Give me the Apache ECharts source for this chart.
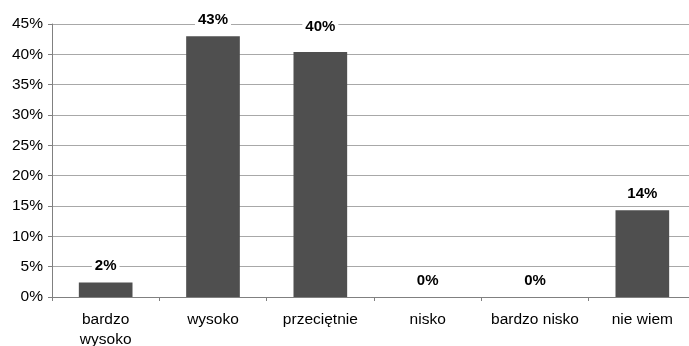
<!DOCTYPE html>
<html>
<head>
<meta charset="utf-8">
<script src="https://cdn.jsdelivr.net/npm/echarts@6/dist/echarts.min.js"></script>
<style>
  html, body { margin: 0; padding: 0; background: #ffffff; }
  #chart { width: 689px; height: 346px; }
</style>
</head>
<body>
<div id="chart"></div>
<script>
// Answer categories (Polish survey scale)
const categories = ['bardzo\nwysoko', 'wysoko', 'przeciętnie', 'nisko', 'bardzo nisko', 'nie wiem'];
// Share of responses, in percent
const shares = [2.4, 43, 40.4, 0, 0, 14.3];
// Y axis range and step, in percent
const yMin = 0;
const yMax = 45;
const yStep = 5;

const FONT = '"Liberation Sans", Arial, sans-serif';

// The "przeciętnie" label sits a little higher so it clears the 40% gridline
const raisedLabels = { 'przeciętnie': 9 };

const chart = echarts.init(document.getElementById('chart'), null, { renderer: 'canvas' });

chart.setOption({
  animation: false,
  backgroundColor: '#ffffff',
  grid: { left: 52, right: -7, top: 24, bottom: 49, containLabel: false, outerBoundsMode: 'none' },
  xAxis: {
    type: 'category',
    data: categories,
    boundaryGap: true,
    axisLine: { show: true, lineStyle: { color: '#808080', width: 1 } },
    axisTick: { show: true, length: 4, alignWithLabel: false, lineStyle: { color: '#808080' } },
    axisLabel: {
      color: '#000000',
      fontFamily: FONT,
      fontSize: 15.5,
      lineHeight: 20,
      margin: 13,
      interval: 0
    },
    splitLine: { show: false }
  },
  yAxis: {
    type: 'value',
    min: yMin,
    max: yMax,
    interval: yStep,
    axisLine: { show: true, lineStyle: { color: '#808080', width: 1 } },
    axisTick: { show: true, length: 4, lineStyle: { color: '#808080' } },
    axisLabel: {
      color: '#000000',
      fontFamily: FONT,
      fontSize: 15.5,
      margin: 9,
      formatter: v => v + '%'
    },
    splitLine: { show: true, lineStyle: { color: '#a8a8a8', width: 1 } }
  },
  series: [{
    type: 'bar',
    barWidth: '50%',
    itemStyle: { color: '#4f4f4f' },
    data: shares.map((v, i) => {
      const lift = raisedLabels[categories[i]] || 0;
      return lift ? { value: v, label: { offset: [0, -lift] } } : v;
    }),
    label: {
      show: true,
      position: 'top',
      distance: 8,
      color: '#000000',
      fontFamily: FONT,
      fontSize: 15,
      fontWeight: 'bold',
      backgroundColor: '#ffffff',
      padding: [1, 3, 1, 3],
      formatter: p => Math.round(p.value) + '%'
    }
  }]
});
</script>
</body>
</html>
